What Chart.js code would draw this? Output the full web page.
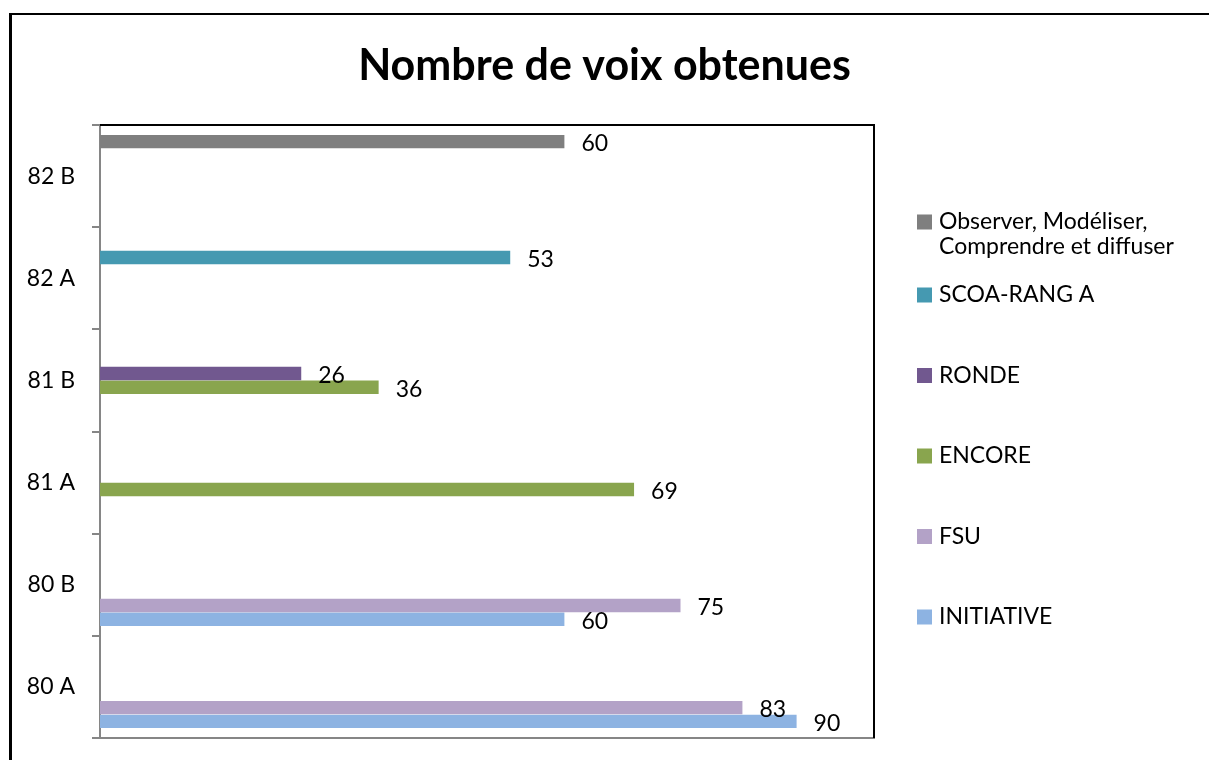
<!DOCTYPE html>
<html lang="fr">
<head>
<meta charset="utf-8">
<title>Nombre de voix obtenues</title>
<script src="https://cdn.jsdelivr.net/npm/chart.js@4.4.1/dist/chart.umd.min.js"></script>
<style>
    html, body {
        margin: 0;
        padding: 0;
        background: #ffffff;
        overflow: hidden;
    }
    .frame {
        position: absolute;
        left: 9px;
        top: 13px;
        width: 1400px;
        height: 1000px;
        border: 2px solid #000000;
        border-left-width: 3px;
    }
    .chart-wrap {
        position: absolute;
        left: 0;
        top: 0;
        width: 1209px;
        height: 760px;
    }
</style>
</head>
<body>
<div class="frame"></div>
<div class="chart-wrap" id="vote-card">
    <canvas id="voteChart"></canvas>
</div>
<script>
// Chart data (categories listed top to bottom)
const categories = ['82 B', '82 A', '81 B', '81 A', '80 B', '80 A'];

const seriesNames = [
    ['Observer, Modéliser,', 'Comprendre et diffuser'],
    'SCOA-RANG A',
    'RONDE',
    'ENCORE',
    'FSU',
    'INITIATIVE'
];

const observerVotes   = [60, null, null, null, null, null];
const scoaVotes       = [null, 53, null, null, null, null];
const rondeVotes      = [null, null, 26, null, null, null];
const encoreVotes     = [null, null, 36, 69, null, null];
const fsuVotes        = [null, null, null, null, 75, 83];
const initiativeVotes = [null, null, null, null, 60, 90];

const seriesColors = ['#7f7f7f', '#4599b1', '#71588f', '#89a54e', '#b3a2c7', '#8db3e2'];

const axisMin = 0;
const axisMax = 100;

const FONT = 'Lato, "Open Sans", sans-serif';

// Draws the value next to the end of each bar
const barValueLabels = {
    id: 'barValueLabels',
    afterDatasetsDraw(chart) {
        const ctx = chart.ctx;
        ctx.save();
        ctx.font = '23px ' + FONT;
        ctx.fillStyle = '#000000';
        ctx.textAlign = 'left';
        ctx.textBaseline = 'middle';
        chart.data.datasets.forEach((ds, i) => {
            const meta = chart.getDatasetMeta(i);
            meta.data.forEach((bar, j) => {
                const v = ds.data[j];
                if (v === null || v === undefined) return;
                ctx.fillText(String(v), bar.x + 17, bar.y + 2);
            });
        });
        ctx.restore();
    }
};

// Black top and right edges of the plot area
const plotFrame = {
    id: 'plotFrame',
    afterDraw(chart) {
        const { ctx, chartArea } = chart;
        ctx.save();
        ctx.strokeStyle = '#000000';
        ctx.lineWidth = 2;
        ctx.beginPath();
        ctx.moveTo(chartArea.left, chartArea.top);
        ctx.lineTo(chartArea.right, chartArea.top);
        ctx.lineTo(chartArea.right, chartArea.bottom);
        ctx.stroke();
        ctx.restore();
    }
};

// Legend on the right, laid out like the original
const sideLegend = {
    id: 'sideLegend',
    afterDraw(chart) {
        const ctx = chart.ctx;
        const boxX = 917;
        const textX = 939;
        const box = 15;
        ctx.save();
        ctx.font = '23px ' + FONT;
        ctx.textAlign = 'left';
        ctx.textBaseline = 'middle';
        chart.data.datasets.forEach((ds, i) => {
            const y = i === 0 ? 222 : 295 + (i - 1) * 80.5;
            ctx.fillStyle = ds.backgroundColor;
            ctx.fillRect(boxX, y - box / 2, box, box);
            ctx.fillStyle = '#000000';
            const lines = Array.isArray(seriesNames[i]) ? seriesNames[i] : [seriesNames[i]];
            lines.forEach((line, k) => {
                ctx.fillText(line, textX, y + k * 25);
            });
        });
        ctx.restore();
    }
};

class VoteChart {
    constructor(canvasId) {
        this.canvas = document.getElementById(canvasId);
        this.chart = null;
        this.init();
    }

    init() {
        this.createChart();
    }

    buildDatasets() {
        const values = [observerVotes, scoaVotes, rondeVotes, encoreVotes, fsuVotes, initiativeVotes];
        return values.map((data, i) => ({
            label: Array.isArray(seriesNames[i]) ? seriesNames[i].join(' ') : seriesNames[i],
            data: data,
            backgroundColor: seriesColors[i],
            borderWidth: 0,
            categoryPercentage: 0.81,
            barPercentage: 0.97
        }));
    }

    createChart() {
        this.chart = new Chart(this.canvas, {
            type: 'bar',
            data: {
                labels: categories,
                datasets: this.buildDatasets()
            },
            options: {
                indexAxis: 'y',
                responsive: true,
                maintainAspectRatio: false,
                animation: false,
                layout: {
                    padding: { left: 0, right: 0, top: 0, bottom: 22 }
                },
                plugins: {
                    legend: { display: false },
                    tooltip: { enabled: false },
                    title: {
                        display: true,
                        text: 'Nombre de voix obtenues',
                        color: '#000000',
                        font: { family: FONT, size: 43, weight: 'bold', lineHeight: 1.2 },
                        padding: { top: 40, bottom: 33.4 }
                    }
                },
                scales: {
                    x: {
                        min: axisMin,
                        max: axisMax,
                        ticks: { display: false },
                        grid: { display: false, drawTicks: false, tickLength: 0 },
                        border: { display: true, color: '#868686', width: 2 },
                        afterFit: (scale) => { scale.height = 0; }
                    },
                    y: {
                        ticks: {
                            color: '#000000',
                            padding: 17,
                            font: { family: FONT, size: 23 }
                        },
                        grid: {
                            offset: true,
                            drawOnChartArea: false,
                            drawTicks: true,
                            tickLength: 8,
                            color: '#868686',
                            lineWidth: 2
                        },
                        border: { display: true, color: '#868686', width: 2 },
                        afterFit: (scale) => {
                            scale.width = 100;
                            scale.paddingTop = 0;
                            scale.paddingBottom = 0;
                        }
                    },
                    // empty space on the right that holds the legend
                    legendSpace: {
                        type: 'category',
                        axis: 'y',
                        position: 'right',
                        display: true,
                        ticks: { display: false },
                        grid: { display: false, drawTicks: false },
                        border: { display: false },
                        afterFit: (scale) => { scale.width = 335; }
                    }
                }
            },
            plugins: [barValueLabels, plotFrame, sideLegend]
        });
    }
}

document.addEventListener('DOMContentLoaded', () => {
    new VoteChart('voteChart');
});
</script>
</body>
</html>
